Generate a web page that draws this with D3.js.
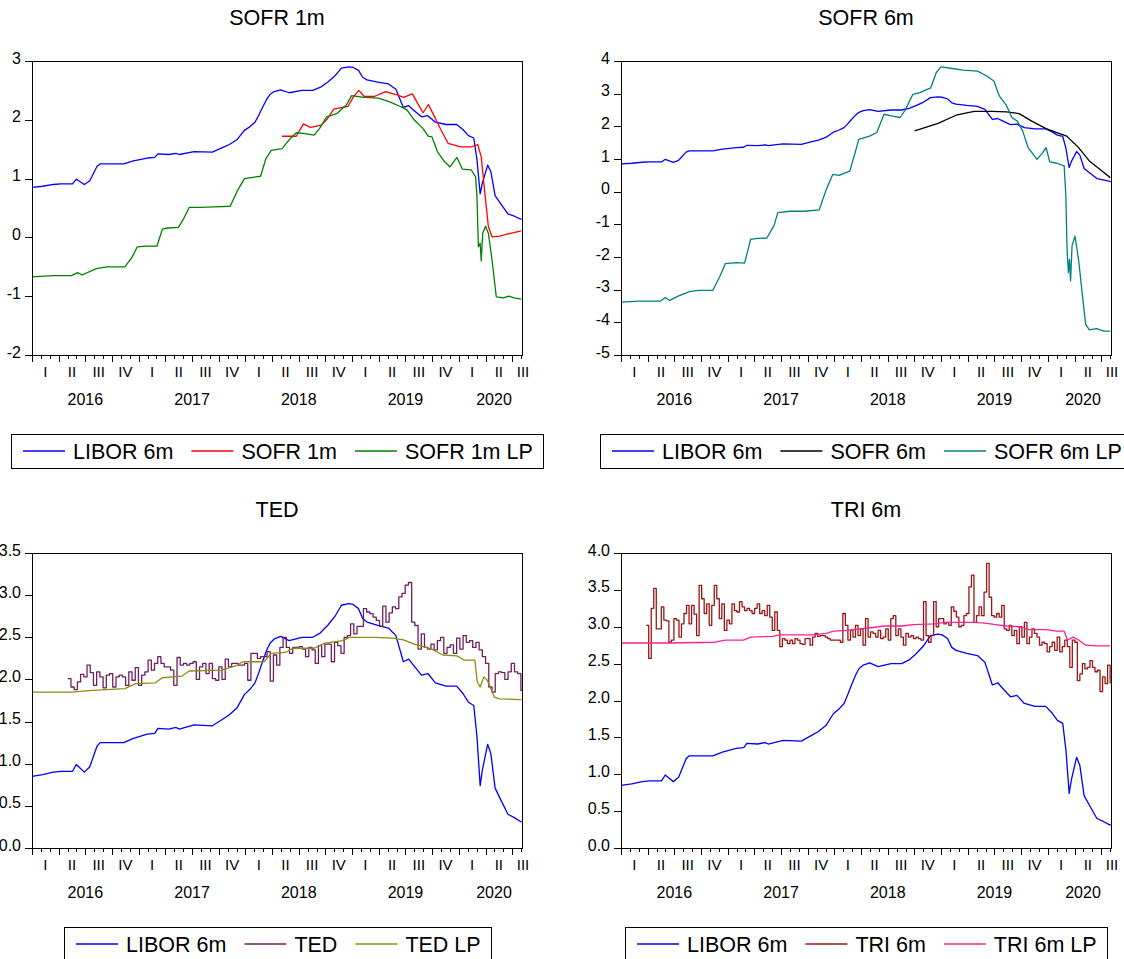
<!DOCTYPE html>
<html>
<head>
<meta charset="utf-8">
<script src="https://cdn.jsdelivr.net/npm/d3@7"></script>
<style>
  body { margin: 0; background: #fff; }
  svg { display: block; }
</style>
</head>
<body>
<svg id="chart" width="1124" height="959"></svg>
<script>
// time is in decimal years
const xDomain = [2016.0, 2020.592];
const years = [2016, 2017, 2018, 2019, 2020];
const quarterLabels = ["I", "II", "III", "IV"];

const libor6m = [
  [2016.00,0.85],[2016.10,0.87],[2016.20,0.90],[2016.27,0.91],[2016.38,0.91],[2016.415,0.99],
  [2016.44,0.96],[2016.49,0.90],[2016.54,0.96],[2016.61,1.21],[2016.64,1.25],[2016.78,1.25],
  [2016.86,1.25],[2016.95,1.30],[2017.08,1.35],[2017.15,1.36],[2017.18,1.42],[2017.28,1.41],
  [2017.35,1.43],[2017.38,1.41],[2017.52,1.46],[2017.69,1.45],[2017.79,1.53],[2017.85,1.58],
  [2017.92,1.66],[2017.99,1.82],[2018.04,1.88],[2018.09,1.96],[2018.12,2.06],[2018.16,2.21],
  [2018.20,2.35],[2018.23,2.43],[2018.27,2.48],[2018.33,2.51],[2018.41,2.46],[2018.53,2.50],
  [2018.63,2.50],[2018.70,2.55],[2018.77,2.64],[2018.84,2.75],[2018.90,2.88],[2018.97,2.90],
  [2019.01,2.89],[2019.06,2.84],[2019.10,2.72],[2019.14,2.68],[2019.24,2.64],[2019.34,2.61],
  [2019.41,2.52],[2019.48,2.21],[2019.53,2.24],[2019.58,2.16],[2019.65,2.05],[2019.71,2.07],
  [2019.78,1.96],[2019.88,1.92],[2019.98,1.92],[2020.04,1.83],[2020.09,1.73],[2020.14,1.69],
  [2020.17,1.32],[2020.20,0.74],[2020.22,0.92],[2020.27,1.23],[2020.30,1.12],[2020.34,0.71],
  [2020.39,0.58],[2020.46,0.40],[2020.52,0.36],[2020.57,0.32],[2020.59,0.31]
];

const sofr1m = [
  [2018.343,1.72],[2018.477,1.72],[2018.544,1.93],[2018.610,1.87],[2018.711,1.91],[2018.761,2.00],
  [2018.828,2.18],[2018.962,2.23],[2019.012,2.39],[2019.062,2.50],[2019.112,2.40],[2019.213,2.40],
  [2019.313,2.48],[2019.414,2.43],[2019.481,2.38],[2019.564,2.44],[2019.614,2.28],[2019.665,2.12],
  [2019.715,2.26],[2019.765,2.08],[2019.832,1.83],[2019.899,1.60],[2020.016,1.54],[2020.116,1.54],
  [2020.177,1.58],[2020.210,1.37],[2020.244,0.75],[2020.277,0.18],[2020.311,0.01],[2020.384,0.02],
  [2020.485,0.07],[2020.585,0.11]
];

const sofr1mLP = [
  [2016.000,-0.67],[2016.201,-0.65],[2016.368,-0.65],[2016.428,-0.60],[2016.469,-0.64],[2016.602,-0.53],
  [2016.703,-0.50],[2016.870,-0.50],[2016.937,-0.34],[2016.987,-0.16],[2017.071,-0.15],[2017.171,-0.15],
  [2017.222,0.14],[2017.272,0.16],[2017.372,0.17],[2017.422,0.32],[2017.473,0.51],[2017.573,0.51],
  [2017.707,0.52],[2017.857,0.53],[2017.924,0.79],[2017.991,1.00],[2018.142,1.04],[2018.192,1.34],
  [2018.242,1.48],[2018.343,1.51],[2018.410,1.66],[2018.477,1.78],[2018.544,1.77],[2018.644,1.74],
  [2018.694,1.85],[2018.761,2.05],[2018.861,2.11],[2018.945,2.25],[2018.995,2.41],[2019.112,2.38],
  [2019.246,2.37],[2019.347,2.31],[2019.447,2.23],[2019.514,2.17],[2019.581,2.00],[2019.665,1.85],
  [2019.715,1.72],[2019.748,1.71],[2019.799,1.46],[2019.865,1.29],[2019.916,1.20],[2019.983,1.36],
  [2020.033,1.16],[2020.116,1.15],[2020.157,1.03],[2020.170,0.69],[2020.183,-0.16],[2020.200,-0.10],
  [2020.210,-0.40],[2020.224,0.07],[2020.250,0.19],[2020.277,0.07],[2020.311,-0.38],[2020.351,-1.01],
  [2020.418,-1.03],[2020.468,-1.00],[2020.518,-1.03],[2020.585,-1.05]
];

const sofr6m = [
  [2018.752,1.86],[2018.971,2.09],[2019.140,2.34],[2019.309,2.46],[2019.477,2.46],[2019.612,2.44],
  [2019.731,2.39],[2019.849,2.16],[2019.984,1.93],[2020.085,1.81],[2020.177,1.70],[2020.288,1.35],
  [2020.389,0.94],[2020.490,0.68],[2020.585,0.43]
];

const sofr6mLP = [
  [2016.000,-3.38],[2016.169,-3.35],[2016.371,-3.35],[2016.415,-3.24],[2016.456,-3.33],[2016.540,-3.19],
  [2016.641,-3.06],[2016.726,-3.02],[2016.861,-3.02],[2016.928,-2.58],[2016.979,-2.20],[2017.080,-2.17],
  [2017.158,-2.19],[2017.215,-1.46],[2017.283,-1.43],[2017.367,-1.42],[2017.435,-1.03],[2017.469,-0.64],
  [2017.587,-0.60],[2017.722,-0.60],[2017.857,-0.56],[2017.924,0.07],[2017.985,0.53],[2018.043,0.50],
  [2018.144,0.63],[2018.194,1.19],[2018.228,1.60],[2018.330,1.70],[2018.397,1.81],[2018.465,2.37],
  [2018.532,2.32],[2018.616,2.27],[2018.667,2.52],[2018.735,2.98],[2018.802,3.03],[2018.853,3.11],
  [2018.903,3.18],[2018.954,3.64],[2018.998,3.82],[2019.106,3.77],[2019.207,3.72],[2019.342,3.69],
  [2019.427,3.54],[2019.494,3.39],[2019.545,2.93],[2019.612,2.64],[2019.663,2.27],[2019.714,2.16],
  [2019.764,1.86],[2019.815,1.35],[2019.899,0.99],[2019.950,1.19],[2019.984,1.35],[2020.018,0.91],
  [2020.085,0.87],[2020.153,0.79],[2020.169,-0.13],[2020.180,-1.77],[2020.193,-2.48],[2020.203,-2.07],
  [2020.213,-2.73],[2020.227,-1.66],[2020.254,-1.36],[2020.288,-2.07],[2020.321,-3.09],[2020.355,-4.06],
  [2020.389,-4.23],[2020.457,-4.19],[2020.524,-4.27],[2020.585,-4.27]
];

// TED: observations every tedStep years from tedStart
const tedStart = 2016.335;
const tedStep = 0.03012;
const ted = [
  2.01,1.91,1.88,1.97,2.06,2.03,2.17,2.08,1.93,2.09,
  2.03,1.90,2.05,2.07,1.91,2.03,2.05,2.03,1.93,2.09,
  1.99,2.14,1.93,2.05,2.09,2.23,2.11,2.19,2.27,2.19,
  2.15,2.15,2.11,1.93,2.26,2.17,2.19,2.17,2.19,2.21,
  2.00,2.15,2.19,2.07,2.19,2.01,1.99,2.15,2.00,2.24,
  2.15,2.19,2.19,2.17,2.17,2.19,1.99,2.31,2.31,2.25,
  2.27,2.27,2.33,1.98,2.29,2.17,2.38,2.50,2.38,2.31,
  2.38,2.38,2.39,2.36,2.27,2.38,2.35,2.19,2.40,2.27,
  2.42,2.42,2.21,2.44,2.40,2.31,2.50,2.52,2.66,2.54,
  2.63,2.63,2.84,2.80,2.78,2.74,2.70,2.63,2.87,2.68,
  2.79,2.86,2.84,2.98,3.02,3.12,3.15,2.68,2.64,2.36,
  2.54,2.38,2.36,2.42,2.35,2.46,2.50,2.31,2.38,2.41,
  2.31,2.49,2.36,2.52,2.44,2.46,2.38,2.44,2.35,2.27,
  2.19,1.91,1.85,2.07,2.09,2.08,2.00,2.09,2.19,2.09,
  2.07,1.87,1.99
];

const tedLP = [
  [2016.000,1.85],[2016.368,1.85],[2016.569,1.87],[2016.870,1.89],[2016.971,1.95],[2017.155,1.96],
  [2017.222,2.02],[2017.406,2.04],[2017.473,2.10],[2017.774,2.11],[2017.908,2.16],[2017.975,2.21],
  [2018.175,2.21],[2018.242,2.31],[2018.376,2.32],[2018.443,2.37],[2018.644,2.37],[2018.744,2.43],
  [2018.912,2.46],[2018.979,2.50],[2019.213,2.50],[2019.380,2.49],[2019.481,2.47],[2019.581,2.42],
  [2019.748,2.36],[2019.849,2.29],[2019.983,2.28],[2020.050,2.23],[2020.150,2.23],[2020.173,1.97],
  [2020.200,1.91],[2020.234,2.03],[2020.267,1.99],[2020.334,1.79],[2020.384,1.77],[2020.585,1.76]
];

// TRI 6m: observations every triStep years from triStart
const triStart = 2016.236;
const triStep = 0.02363;
const tri6m = [
  3.02,2.57,3.25,3.52,2.97,2.97,3.27,3.09,3.08,2.79,
  2.82,3.11,3.09,2.86,3.04,3.18,3.29,3.04,3.29,3.17,
  2.88,3.56,3.38,3.18,3.31,3.02,3.29,3.56,3.38,3.11,
  3.31,2.95,3.09,3.04,3.31,3.22,3.20,3.34,3.27,3.22,
  3.25,3.22,3.18,3.25,3.31,3.18,3.22,3.15,3.29,3.13,
  2.95,3.20,2.95,2.73,2.84,2.82,2.77,2.82,2.77,2.84,
  2.82,2.77,2.76,2.84,2.84,2.75,2.86,2.91,2.87,2.88,
  2.88,2.86,2.84,2.82,2.82,2.82,2.82,2.79,3.18,3.02,
  2.82,2.95,2.86,3.02,2.88,2.97,2.75,3.11,2.86,2.93,
  2.91,2.86,2.95,2.84,2.86,2.97,2.82,3.11,3.15,2.88,
  2.97,2.86,2.75,2.91,2.86,2.88,2.84,2.86,2.84,2.82,
  3.34,2.88,2.79,2.88,3.34,3.00,3.11,3.11,3.04,3.06,
  3.02,3.27,3.21,3.13,3.00,3.02,3.15,3.18,3.54,3.70,
  3.06,3.15,3.27,3.15,3.47,3.86,3.40,3.15,3.13,3.18,
  3.13,3.29,2.97,2.95,3.02,2.88,2.95,2.77,3.00,2.86,
  3.06,2.77,2.86,2.97,2.91,2.86,2.75,2.79,2.77,2.66,
  2.73,2.79,2.68,2.86,2.66,2.73,2.82,2.73,2.45,2.82,
  2.79,2.27,2.36,2.50,2.43,2.45,2.54,2.45,2.39,2.41,
  2.12,2.32,2.23,2.48,2.23
];

const tri6mLP = [
  [2016.000,2.78],[2016.439,2.78],[2016.878,2.79],[2016.979,2.82],[2017.148,2.82],[2017.215,2.86],
  [2017.418,2.87],[2017.485,2.89],[2017.789,2.89],[2017.924,2.91],[2017.992,2.94],[2018.127,2.95],
  [2018.228,2.97],[2018.363,2.99],[2018.465,3.01],[2018.633,3.01],[2018.735,3.03],[2018.937,3.04],
  [2019.038,3.06],[2019.140,3.06],[2019.309,3.06],[2019.410,3.05],[2019.511,3.03],[2019.612,3.01],
  [2019.747,3.00],[2019.815,2.96],[2019.883,2.96],[2019.984,2.96],[2020.085,2.94],[2020.153,2.94],
  [2020.186,2.82],[2020.237,2.86],[2020.288,2.82],[2020.355,2.75],[2020.457,2.74],[2020.585,2.74]
];

const toPairs = (start, step, values) => values.map((v, i) => [start + i * step, v]);

const font = '"Liberation Sans", Arial, Helvetica, sans-serif';
const svg = d3.select("#chart").attr("font-family", font);

// plain hyphen minus, as in the original
const intFmt = d => d.toFixed(0);
const oneDecFmt = d => d.toFixed(1);

const panels = [
  {title: "SOFR 1m", left: 32, right: 522, top: 61, bottom: 355,
   yDomain: [-2, 3], yTicks: [-2, -1, 0, 1, 2, 3], yFormat: intFmt,
   series: [
     {name: "LIBOR 6m", data: libor6m, color: "#0000ff"},
     {name: "SOFR 1m", data: sofr1m, color: "#ff0000"},
     {name: "SOFR 1m LP", data: sofr1mLP, color: "#008000"}
   ]},
  {title: "SOFR 6m", left: 621, right: 1111, top: 61, bottom: 355,
   yDomain: [-5, 4], yTicks: [-5, -4, -3, -2, -1, 0, 1, 2, 3, 4], yFormat: intFmt,
   series: [
     {name: "LIBOR 6m", data: libor6m, color: "#0000ff"},
     {name: "SOFR 6m", data: sofr6m, color: "#000000"},
     {name: "SOFR 6m LP", data: sofr6mLP, color: "#008080"}
   ]},
  {title: "TED", left: 32, right: 522, top: 553, bottom: 848,
   yDomain: [0, 3.5], yTicks: [0, 0.5, 1, 1.5, 2, 2.5, 3, 3.5], yFormat: oneDecFmt,
   series: [
     {name: "LIBOR 6m", data: libor6m, color: "#0000ff"},
     {name: "TED", data: toPairs(tedStart, tedStep, ted), color: "#6e1f62", step: true},
     {name: "TED LP", data: tedLP, color: "#8c8c12"}
   ]},
  {title: "TRI 6m", left: 621, right: 1111, top: 553, bottom: 848,
   yDomain: [0, 4], yTicks: [0, 0.5, 1, 1.5, 2, 2.5, 3, 3.5, 4], yFormat: oneDecFmt,
   series: [
     {name: "LIBOR 6m", data: libor6m, color: "#0000ff"},
     {name: "TRI 6m", data: toPairs(triStart, triStep, tri6m), color: "#9a1616", step: true},
     {name: "TRI 6m LP", data: tri6mLP, color: "#ff2090"}
   ]}
];

// month ticks over the sample
const monthTicks = d3.range(0, 60).map(m => 2016 + m / 12).filter(t => t <= xDomain[1]);
const quarterStarts = d3.range(0, 20).map(q => 2016 + q / 4).filter(t => t < xDomain[1]);

panels.forEach((p, idx) => {
  const g = svg.append("g");
  const x = d3.scaleLinear().domain(xDomain).range([p.left, p.right]);
  const y = d3.scaleLinear().domain(p.yDomain).range([p.bottom, p.top]);
  const cx = (p.left + p.right) / 2;

  g.append("clipPath").attr("id", "clip" + idx)
    .append("rect")
      .attr("x", p.left).attr("y", p.top)
      .attr("width", p.right - p.left).attr("height", p.bottom - p.top);

  g.append("text")
    .attr("x", cx)
    .attr("y", p.top - 36)
    .attr("text-anchor", "middle")
    .attr("font-size", "21.5px")
    .text(p.title);

  p.series.forEach(s => {
    const line = d3.line()
      .x(d => x(d[0]))
      .y(d => y(d[1]))
      .curve(s.step ? d3.curveStepAfter : d3.curveLinear);
    g.append("path")
      .datum(s.data)
      .attr("clip-path", `url(#clip${idx})`)
      .attr("fill", "none")
      .attr("stroke", s.color)
      .attr("stroke-width", 1.3)
      .attr("stroke-linejoin", "round")
      .attr("d", line);
  });

  g.append("rect")
    .attr("x", p.left + 0.5).attr("y", p.top + 0.5)
    .attr("width", p.right - p.left).attr("height", p.bottom - p.top)
    .attr("fill", "none")
    .attr("stroke", "#000")
    .attr("stroke-width", 1.2)
    .attr("shape-rendering", "crispEdges");

  // y axis
  g.append("g")
    .attr("transform", `translate(${p.left},0)`)
    .call(d3.axisLeft(y).tickValues(p.yTicks).tickFormat(p.yFormat).tickSizeOuter(0).tickSizeInner(7).tickPadding(4))
    .call(a => a.select(".domain").remove())
    .call(a => a.selectAll("line").attr("shape-rendering", "crispEdges"))
    .call(a => a.selectAll("text")
      .attr("font-family", font)
      .attr("font-size", "16px")
      .attr("fill", "#000")
      .attr("dy", "2px"));

  // x axis: month ticks, longer at quarters
  g.append("g")
    .attr("transform", `translate(0,${p.bottom + 0.5})`)
    .call(d3.axisBottom(x).tickValues(monthTicks).tickFormat("").tickSizeOuter(0).tickSizeInner(3))
    .call(a => a.select(".domain").remove())
    .call(a => a.selectAll(".tick line")
      .attr("shape-rendering", "crispEdges")
      .attr("y2", d => (Math.round((d - 2016) * 12) % 3 === 0 ? 6 : 3.5)));

  g.append("g")
    .selectAll("text")
    .data(quarterStarts)
    .join("text")
      .attr("x", d => Math.min(x(d + 0.125), p.right + 1))
      .attr("y", p.bottom + 22)
      .attr("text-anchor", "middle")
      .attr("font-size", "15px")
      .text((d, i) => quarterLabels[i % 4]);

  g.append("g")
    .selectAll("text")
    .data(years)
    .join("text")
      .attr("x", d => Math.min(x(d + 0.5), p.right - 28))
      .attr("y", p.bottom + 50)
      .attr("text-anchor", "middle")
      .attr("font-size", "16px")
      .text(d => d);

  // legend
  const legendTop = p.bottom + 79;
  const lg = g.append("g");
  let cursor = 12;
  p.series.forEach((s, i) => {
    lg.append("line")
      .attr("x1", cursor).attr("x2", cursor + 42)
      .attr("y1", 17).attr("y2", 17)
      .attr("stroke", s.color)
      .attr("stroke-width", 1.3);
    const t = lg.append("text")
      .attr("x", cursor + 50)
      .attr("y", 24.5)
      .attr("font-size", "21.5px")
      .text(s.name);
    cursor += 50 + t.node().getComputedTextLength() + (i < p.series.length - 1 ? 18 : 10);
  });
  lg.insert("rect", ":first-child")
    .attr("x", 0.5).attr("y", 0.5)
    .attr("width", cursor).attr("height", 34)
    .attr("fill", "#fff")
    .attr("stroke", "#000")
    .attr("stroke-width", 1.2)
    .attr("shape-rendering", "crispEdges");
  lg.attr("transform", `translate(${Math.round(cx - cursor / 2)},${legendTop})`);
});
</script>
</body>
</html>
